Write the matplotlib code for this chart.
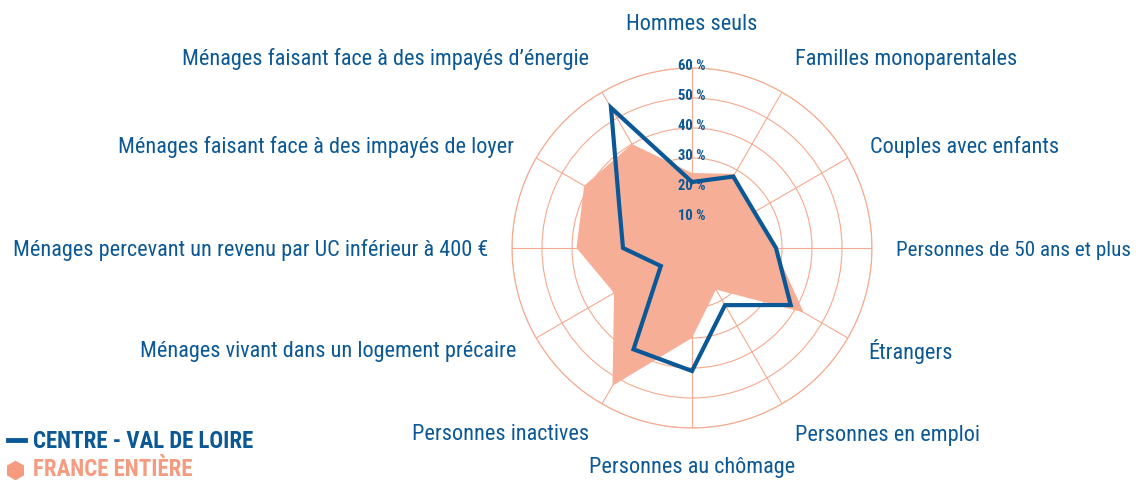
import numpy as np
import matplotlib.pyplot as plt
from matplotlib.lines import Line2D

# axes, clockwise from the top
categories = [
    "Hommes seuls",
    "Familles monoparentales",
    "Couples avec enfants",
    "Personnes de 50 ans et plus",
    "Étrangers",
    "Personnes en emploi",
    "Personnes au chômage",
    "Personnes inactives",
    "Ménages vivant dans un logement précaire",
    "Ménages percevant un revenu par UC inférieur à 400 €",
    "Ménages faisant face à des impayés de loyer",
    "Ménages faisant face à des impayés d’énergie",
]
centre_vdl = [22, 27.5, 24, 28, 38, 22, 41, 39, 12, 23, 28, 54]
france = [25, 28.5, 23.5, 27.5, 43, 16, 30, 53, 30, 38.5, 41.5, 40]
rings = [10, 20, 30, 40, 50, 60]

BLUE = "#0b5896"
SALMON = "#f7ae96"
GRID = "#f5a98e"
LEG_SALMON = "#f59c80"

FONT = ["Roboto Condensed", "Archivo Narrow", "Asap Condensed", "DejaVu Sans"]
plt.rcParams["font.family"] = FONT

W, H = 1141, 480
CX, CY = 692, 248  # web centre in pixels from top-left

fig = plt.figure(figsize=(W / 100, H / 100), dpi=100)
ax = fig.add_axes([(CX - 180) / W, (H - CY - 180) / H, 360 / W, 360 / H],
                  projection="polar")
ax.set_theta_zero_location("N")
ax.set_theta_direction(-1)
ax.set_ylim(0, 60)

n = len(categories)
angles = np.arange(n) * 2 * np.pi / n
closed = np.append(angles, angles[0])

ax.set_xticks(angles)
ax.set_xticklabels([])
ax.set_yticks(rings)
ax.set_yticklabels([])
ax.grid(True, color=GRID, lw=0.8)
ax.spines["polar"].set_color(GRID)
ax.spines["polar"].set_linewidth(0.8)
ax.set_facecolor("white")

ax.fill(closed, np.append(france, france[0]), color=SALMON, lw=0, zorder=2)

for v in rings:
    ax.text(0, v + 0.6, f"{v} %", ha="center", va="center", color=BLUE,
            fontsize=10.5, fontweight="bold", zorder=3)

ax.plot(closed, np.append(centre_vdl, centre_vdl[0]), color=BLUE, lw=3,
        solid_joinstyle="miter", zorder=4)

# label placement (pixel offsets from the centre) for each axis angle
label_off = {0: (0, 224, "center"), 30: (103, 189, "left"), 60: (178, 101, "left"),
             90: (204, -2, "left"), 120: (176, -104, "left"), 150: (103, -187, "left"),
             180: (0, -219, "center")}
for a, lab in zip(angles, categories):
    deg = int(round(np.degrees(a)))
    if deg <= 180:
        dx, dy, ha = label_off[deg]
    else:
        dx, dy, ha = label_off[360 - deg]
        dx = -dx
        ha = "right"
    fs = 15.2 if deg == 90 else 16
    fig.text((CX + dx) / W, (H - CY + dy) / H, lab, ha=ha, va="center",
             color=BLUE, fontsize=fs)

# legend
fig.add_artist(Line2D([8 / W, 25 / W], [1 - 440 / H] * 2, color=BLUE, lw=3.5,
                      transform=fig.transFigure))
fig.add_artist(Line2D([15 / W], [1 - 470 / H], marker="h", markersize=13,
                      color=LEG_SALMON, lw=0, transform=fig.transFigure))
fig.text(33 / W, 1 - 442 / H, "CENTRE - VAL DE LOIRE", color=BLUE,
         fontsize=16.5, fontweight="bold", va="center", ha="left")
fig.text(33 / W, 1 - 469 / H, "FRANCE ENTIÈRE", color=LEG_SALMON,
         fontsize=16.5, fontweight="bold", va="center", ha="left")

fig.savefig("out.png", dpi=100)
